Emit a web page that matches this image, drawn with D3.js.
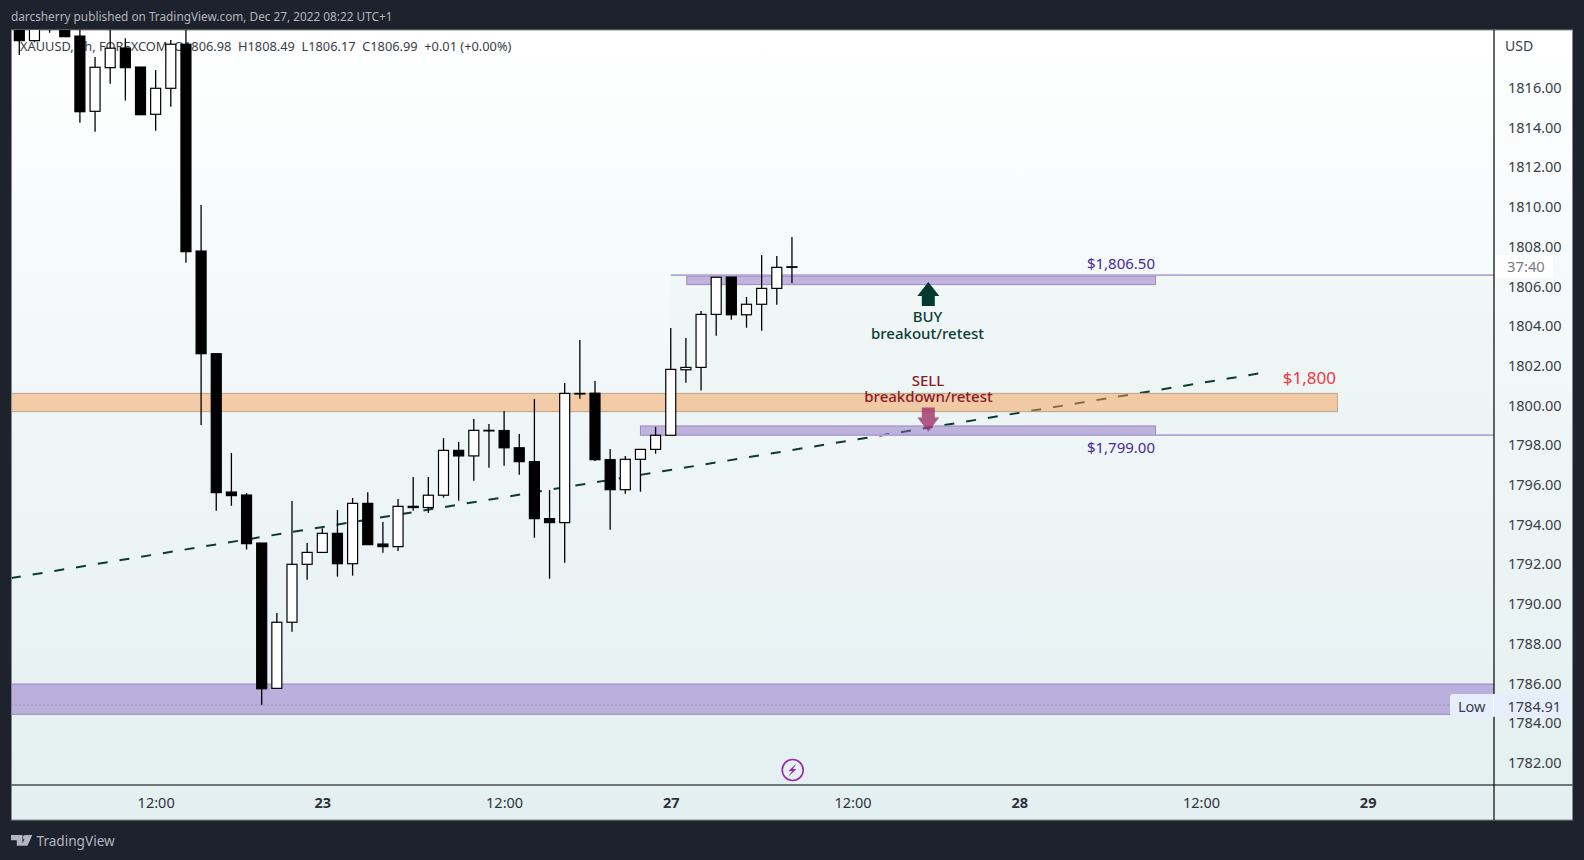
<!DOCTYPE html>
<html>
<head>
<meta charset="utf-8">
<script src="https://cdn.jsdelivr.net/npm/d3@7"></script>
<style>
  html, body { margin: 0; padding: 0; background: #1e222d; overflow: hidden; }
  text { font-family: "Noto Sans", sans-serif; }
</style>
</head>
<body>
<svg id="chart" width="1584" height="860"></svg>
<script>
// hourly candles (first few are cut off by the top edge)
var opens = [1819.6,1818.38,1820.0,1819.4,1818.61,1814.82,1817.02,1818.01,1817.05,1814.67,1815.98,1818.20,1807.78,1802.61,1795.64,1795.49,1793.07,1785.75,1789.08,1792.00,1792.60,1793.56,1792.03,1795.07,1793.02,1792.89,1794.92,1794.86,1795.48,1797.74,1797.46,1798.75,1798.74,1797.87,1797.17,1794.30,1794.10,1800.61,1800.62,1797.27,1795.76,1797.29,1797.79,1798.50,1801.80,1801.92,1804.59,1806.47,1804.57,1805.10,1805.90,1806.98];
var highs = [1820.2,1820.3,1820.4,1820.0,1819.3,1817.56,1819.4,1818.50,1817.05,1816.90,1818.41,1819.5,1810.10,1802.61,1797.61,1795.59,1793.07,1789.55,1795.19,1793.07,1793.81,1794.74,1795.34,1795.63,1794.13,1795.29,1796.40,1796.40,1798.36,1798.16,1799.32,1799.07,1799.72,1798.56,1800.33,1795.74,1801.13,1803.30,1801.23,1797.81,1797.46,1797.79,1798.92,1803.90,1803.40,1804.76,1806.46,1806.47,1805.47,1807.58,1807.53,1808.49];
var lows = [1817.66,1818.30,1818.78,1818.56,1814.25,1813.79,1816.21,1815.36,1814.65,1813.84,1815.05,1807.19,1799.02,1794.70,1794.95,1792.74,1784.91,1785.75,1788.60,1791.22,1792.60,1791.38,1791.43,1792.99,1792.58,1792.67,1794.70,1794.58,1795.36,1795.20,1796.21,1796.87,1796.97,1796.51,1793.34,1791.27,1792.08,1800.34,1797.20,1793.74,1795.56,1795.66,1797.57,1798.50,1801.15,1800.75,1803.52,1804.32,1803.92,1803.77,1805.08,1806.17];
var closes = [1818.38,1819.8,1819.5,1818.58,1814.80,1817.04,1818.00,1817.02,1814.65,1815.98,1818.20,1807.75,1802.61,1795.61,1795.46,1793.04,1785.73,1789.08,1792.00,1792.60,1793.56,1792.03,1795.07,1792.99,1792.89,1794.92,1794.86,1795.48,1797.74,1797.46,1798.75,1798.74,1797.87,1797.17,1794.30,1794.10,1800.61,1800.60,1797.27,1795.76,1797.29,1797.79,1798.50,1801.82,1801.92,1804.59,1806.46,1804.57,1805.10,1805.90,1806.96,1806.99];

var priceTicks = [1782,1784,1786,1788,1790,1792,1794,1796,1798,1800,1802,1804,1806,1808,1810,1812,1814,1816];
var timeTickBars = [9,20,32,43,55,66,78,89];
var timeTickLabels = ["12:00","23","12:00","27","12:00","28","12:00","29"];
var trendBars = [-0.515,81.8];
var trendPrices = [1791.31,1801.61];

var svg = d3.select("#chart");

var plotLeft = 11.5, plotRight = 1494, plotTop = 30, plotBottom = 785, panelRight = 1572.5, panelBottom = 820;

var x = d3.scaleLinear().domain([0,89]).range([19.3,1367.65]);
var y = d3.scaleLinear().domain([1782,1816]).range([762.8,87.9]);

// panel background
var defs = svg.append("defs");
var grad = defs.append("linearGradient").attr("id","bg").attr("x1",0).attr("y1",0).attr("x2",0).attr("y2",1);
grad.append("stop").attr("offset","0%").attr("stop-color","#ffffff");
grad.append("stop").attr("offset","50%").attr("stop-color","#f0f6f8");
grad.append("stop").attr("offset","100%").attr("stop-color","#e3eff0");
defs.append("clipPath").attr("id","plot").append("rect")
    .attr("x",plotLeft).attr("y",plotTop).attr("width",plotRight-plotLeft).attr("height",plotBottom-plotTop);

svg.append("rect").attr("x",plotLeft).attr("y",plotTop)
    .attr("width",panelRight-plotLeft).attr("height",panelBottom-plotTop)
    .attr("fill","url(#bg)").attr("stroke","#868993").attr("stroke-width",1);

// top bar and footer text
svg.append("text").attr("x",11).attr("y",20.5).attr("fill","#b2b5be").attr("font-size",11.8)
    .text("darcsherry published on TradingView.com, Dec 27, 2022 08:22 UTC+1");
svg.append("text").attr("x",36.5).attr("y",846).attr("fill","#b2b5be").attr("font-size",13.6)
    .text("TradingView");
svg.append("path").attr("fill","#b2b5be")
    .attr("d","M11 835h11.5v10.7h-5.7v-5.5H11z M32.3 835l-4.8 10.7h-6l4.8-10.7z");
svg.append("circle").attr("cx",25.2).attr("cy",837.4).attr("r",2.3).attr("fill","#b2b5be");

var plot = svg.append("g").attr("clip-path","url(#plot)");

// legend sits under the candles
plot.append("text").attr("x",20).attr("y",50.5).attr("fill","#3a3d47").attr("font-size",12.8)
    .attr("xml:space","preserve")
    .text("XAUUSD, 1h, FOREXCOM  O1806.98  H1808.49  L1806.17  C1806.99  +0.01 (+0.00%)");

// tinted range between the two levels
plot.append("rect").attr("x",x(43)).attr("width",plotRight-x(43))
    .attr("y",y(1806.57)).attr("height",y(1798.51)-y(1806.57))
    .attr("fill","#4caf50").attr("fill-opacity",0.025);

// trend line
var line = d3.line().x(function(d){ return x(d[0]); }).y(function(d){ return y(d[1]); });
plot.append("path").datum(d3.zip(trendBars,trendPrices)).attr("d",line)
    .attr("fill","none").attr("stroke","#0c3b34").attr("stroke-width",2)
    .attr("stroke-dasharray","10 12").attr("stroke-dashoffset",0.6);

// zones
function zone(b0,b1,p0,p1,fill,stroke){
  var left = b0===null ? plotLeft-2 : x(b0);
  var right = b1===null ? plotRight+2 : x(b1);
  plot.append("rect")
      .attr("x",left).attr("width",right-left)
      .attr("y",y(p1)).attr("height",y(p0)-y(p1))
      .attr("fill",fill).attr("stroke",stroke).attr("stroke-width",1);
}
zone(null,87,1799.69,1800.61,"rgba(246,160,85,0.5)","#b9a68c");
zone(null,null,1784.44,1785.97,"rgba(138,104,197,0.48)","#9b8bbb");
zone(44.06,75,1806.09,1806.52,"rgba(138,104,197,0.48)","#9b8bbb");
zone(41,75,1798.50,1798.97,"rgba(138,104,197,0.48)","#9b8bbb");

// level lines
[1806.57,1798.51].forEach(function(p){
  plot.append("line").attr("x1",x(43)).attr("x2",plotRight).attr("y1",y(p)).attr("y2",y(p))
      .attr("stroke","#b3a3d6").attr("stroke-width",1.6);
});
plot.append("line").attr("x1",plotLeft).attr("x2",1450).attr("y1",y(1784.91)).attr("y2",y(1784.91))
    .attr("stroke","#7d7296").attr("stroke-width",1).attr("stroke-dasharray","1 3");

// arrows, same shape flipped
function arrow(tip,dir,fill){
  var cx = 928.3;
  plot.append("path").attr("fill",fill)
      .attr("d","M"+cx+" "+tip+"l11 "+(dir*14)+"h-4.5v"+(dir*10)+"h-13v"+(-dir*10)+"h-4.5z");
}
arrow(282,1,"#023a30");
arrow(431.5,-1,"rgba(160,50,105,0.8)");

// candles
var candles = opens.map(function(o,i){ return {i:i,o:o,h:highs[i],l:lows[i],c:closes[i]}; });
var bars = plot.selectAll("g.candle").data(candles).enter().append("g").attr("class","candle");
bars.append("line")
    .attr("x1",function(d){ return x(d.i); }).attr("x2",function(d){ return x(d.i); })
    .attr("y1",function(d){ return y(d.h); }).attr("y2",function(d){ return y(d.l); })
    .attr("stroke","#000").attr("stroke-width",1.3);
bars.append("rect")
    .attr("x",function(d){ return x(d.i)-5; }).attr("width",10)
    .attr("y",function(d){ return y(Math.max(d.o,d.c)); })
    .attr("height",function(d){ return Math.max(0.6,Math.abs(y(d.o)-y(d.c))); })
    .attr("fill",function(d){ return d.c>d.o ? "#fff" : "#000"; })
    .attr("stroke","#000").attr("stroke-width",1.2);

// annotation text
function note(px,py,txt,color,size,anchor,weight){
  svg.append("text").attr("x",px).attr("y",py).attr("fill",color).attr("font-size",size)
      .attr("text-anchor",anchor).attr("font-weight",weight||400).attr("dominant-baseline","central").text(txt);
}
note(1155,262.7,"$1,806.50","#4527a0",15,"end");
note(1155,447.2,"$1,799.00","#4527a0",15,"end");
note(1336,377,"$1,800","#f23645",17,"end");
note(927.5,315.5,"BUY","#0b3d36",15,"middle",500);
note(927.5,332.5,"breakout/retest","#0b3d36",15,"middle",500);
note(928,379.5,"SELL","#8b1a2b",15,"middle",500);
note(928.5,396,"breakdown/retest","#8b1a2b",15,"middle",500);

// price axis
var yAxis = d3.axisRight(y).tickValues(priceTicks).tickSize(0).tickPadding(14)
    .tickFormat(function(d){ return d3.format(".2f")(d); });
var yg = svg.append("g").attr("transform","translate("+plotRight+",0)").call(yAxis);
yg.select(".domain").remove();
yg.selectAll("text").attr("fill","#3a3d47").attr("font-size",14.5).attr("font-family","'Noto Sans', sans-serif");

// time axis
var xAxis = d3.axisBottom(x).tickValues(timeTickBars).tickSize(0).tickPadding(13)
    .tickFormat(function(d,i){ return timeTickLabels[i]; });
var xg = svg.append("g").attr("transform","translate(0,"+plotBottom+")").call(xAxis);
xg.select(".domain").remove();
xg.selectAll("text").attr("fill","#2f323b").attr("font-size",14.5).attr("font-family","'Noto Sans', sans-serif")
    .attr("font-weight",function(d,i){ return timeTickLabels[i].indexOf(":")<0 ? 700 : 400; });

// axis borders
svg.append("line").attr("x1",plotRight).attr("x2",plotRight).attr("y1",plotTop).attr("y2",panelBottom)
    .attr("stroke","#000").attr("stroke-width",1.2);
svg.append("line").attr("x1",plotLeft).attr("x2",panelRight).attr("y1",plotBottom).attr("y2",plotBottom)
    .attr("stroke","#000").attr("stroke-width",1.2);

svg.append("text").attr("x",1505).attr("y",51).attr("fill","#3a3d47").attr("font-size",14).text("USD");

// countdown tag
svg.append("rect").attr("x",1495).attr("y",255).attr("width",58).attr("height",23).attr("fill","#fff");
note(1507,265.8,"37:40","#787b86",14.8,"start");

// low tags
svg.append("rect").attr("x",1450).attr("y",694).attr("width",120).attr("height",22.7).attr("rx",3).attr("fill","#e6eefb");
svg.append("line").attr("x1",1493.5).attr("x2",1493.5).attr("y1",694).attr("y2",716.7).attr("stroke","#fff").attr("stroke-width",1);
note(1471.7,705.5,"Low","#3a3d47",14.5,"middle");
note(1507.5,705.5,"1784.91","#3a3d47",14.5,"start");

// bolt marker
svg.append("circle").attr("cx",792.7).attr("cy",770).attr("r",10.5).attr("fill","none").attr("stroke","#9c27b0").attr("stroke-width",1.6);
svg.append("path").attr("fill","#9c27b0").attr("d","M796.5 763.5l-8 7.5h3.6l-3.6 5.5 8-7.5h-3.6z");
</script>
</body>
</html>
